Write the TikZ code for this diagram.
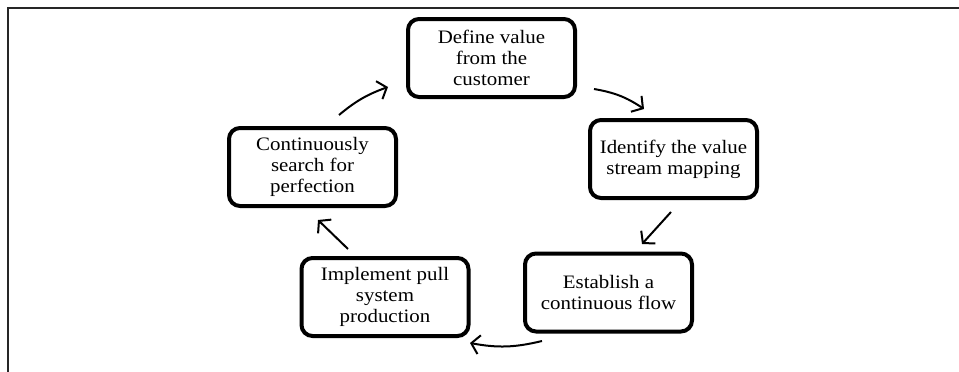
\documentclass[tikz,border=0pt]{standalone}
\usepackage{fontspec}
\setmainfont[FakeStretch=1.1]{Liberation Serif}
\usetikzlibrary{arrows.meta}
\begin{document}
\begin{tikzpicture}[x=1pt,y=1pt,
  stage/.style={draw, line width=4pt, rounded corners=11pt, minimum width=167pt, minimum height=78pt, align=center, inner sep=0pt, font=\fontsize{19}{21}\selectfont},
  flow/.style={line width=2pt, -{Straight Barb[length=8pt,width=19pt,line width=2pt]}}]
\useasboundingbox (0,0) rectangle (959,-372);
\draw[line width=1.2pt, color=black!85] (8,-372) -- (8,-8) -- (959,-8);
\node[stage] (define) at (491.5,-58) {Define value\\from the\\customer};
\node[stage] (identify) at (673.5,-159) {Identify the value\\stream mapping};
\node[stage] (establish) at (608.5,-292.5) {Establish a\\continuous flow};
\node[stage] (implement) at (385,-297) {Implement pull\\system\\production};
\node[stage] (search) at (312.5,-167) {Continuously\\search for\\perfection};
\coordinate (a1s) at (339,-115); \coordinate (a1e) at (388,-87);
\coordinate (a2s) at (594,-89);  \coordinate (a2e) at (644,-109);
\coordinate (a3s) at (671,-212); \coordinate (a3e) at (642,-244);
\coordinate (a4s) at (542,-341); \coordinate (a4e) at (470,-343);
\coordinate (a5s) at (348,-249); \coordinate (a5e) at (318,-220);
\draw[flow] (a1s) to[bend left=10] (a1e);
\draw[flow] (a2s) to[bend left=12] (a2e);
\draw[flow] (a3s) -- (a3e);
\draw[flow] (a4s) to[bend left=12] (a4e);
\draw[flow] (a5s) -- (a5e);
\end{tikzpicture}
\end{document}
